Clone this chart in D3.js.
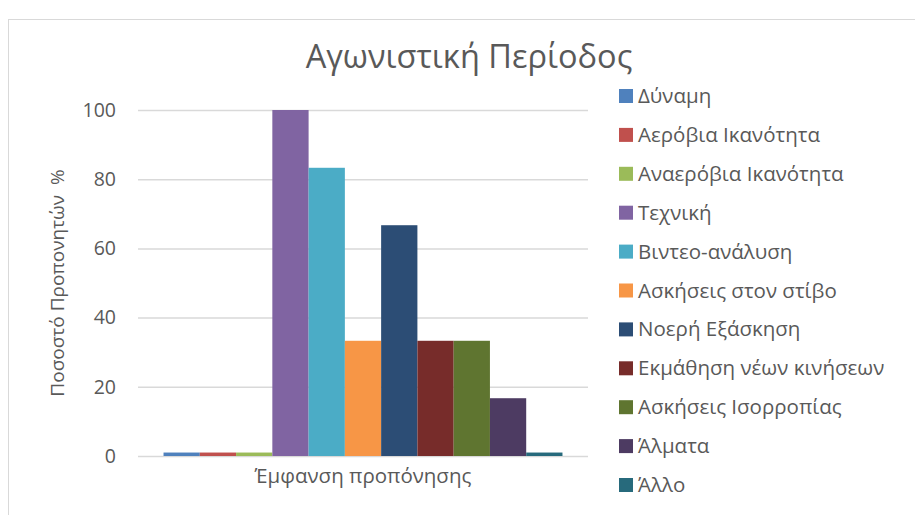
<!DOCTYPE html>
<html><head><meta charset="utf-8">
<script src="https://cdn.jsdelivr.net/npm/d3@7"></script>
<style>body{margin:0;background:#fff}svg{display:block}text{font-family:"Open Sans",sans-serif;fill:#595959;white-space:pre}</style>
</head><body><svg id="c" width="915" height="515"></svg>
<script>
const title = "Αγωνιστική Περίοδος";
const category = "Έμφανση προπόνησης";
const yTitle = "Ποσοστό Προπονητών  %";
const series = ["Δύναμη","Αερόβια Ικανότητα","Αναερόβια Ικανότητα","Τεχνική","Βιντεο-ανάλυση","Ασκήσεις στον στίβο","Νοερή Εξάσκηση","Εκμάθηση νέων κινήσεων","Ασκήσεις Ισορροπίας","Άλματα","Άλλο"];
const values = [1,1,1,100,83.3,33.3,66.7,33.3,33.3,16.7,1];
const colors = ["#4F81BD","#C0504D","#9BBB59","#8064A2","#4BACC6","#F79646","#2C4D75","#772C2A","#5F7530","#4D3B62","#276A7C"];
const yTicks = [0,20,40,60,80,100];

const svg = d3.select("#c");
svg.append("rect").attr("x",8.5).attr("y",19.5).attr("width",1000).attr("height",1000)
  .attr("fill","#fff").attr("stroke","#D9D9D9").attr("stroke-width",1);

const plot = {l:138,r:588,t:110,b:456};
const y = d3.scaleLinear().domain([0,100]).range([plot.b,plot.t]);
const x0 = d3.scaleBand().domain([category]).range([plot.l,plot.r]).paddingInner(0).paddingOuter(0.064);
const x1 = d3.scaleBand().domain(series).range([x0(category), x0(category)+x0.bandwidth()]).padding(0);

// grid
const yAxis = d3.axisLeft(y).tickValues(yTicks).tickSize(-(plot.r-plot.l)).tickPadding(22);
const ga = svg.append("g").attr("transform",`translate(${plot.l},0)`).call(yAxis);
ga.select(".domain").remove();
ga.selectAll(".tick line").attr("stroke","#D9D9D9").attr("stroke-width",1.5);
ga.selectAll(".tick text").attr("font-size",19.5).attr("font-family","Open Sans").style("fill","#595959");

// bars
svg.append("g").selectAll("rect").data(series).join("rect")
  .attr("x",d=>x1(d)).attr("width",x1.bandwidth())
  .attr("y",(d,i)=>y(values[i])).attr("height",(d,i)=>plot.b-y(values[i]))
  .attr("fill",(d,i)=>colors[i]);

// category label
svg.append("text").attr("x",x0(category)+x0.bandwidth()/2).attr("y",483)
  .attr("text-anchor","middle").attr("font-size",20.5).text(category);

// title
svg.append("text").attr("x",469).attr("y",68).attr("text-anchor","middle")
  .attr("font-size",32.5).text(title);

// y title
svg.append("text").attr("transform","translate(64,283) rotate(-90)")
  .attr("text-anchor","middle").attr("font-size",19).text(yTitle);

// legend
const lg = svg.append("g").selectAll("g").data(series).join("g")
  .attr("transform",(d,i)=>`translate(619,${96+i*38.9})`);
lg.append("rect").attr("x",0).attr("y",-7).attr("width",14).attr("height",14).attr("fill",(d,i)=>colors[i]);
lg.append("text").attr("x",19).attr("y",7).attr("font-size",20.5).text(d=>d);
</script></body></html>
